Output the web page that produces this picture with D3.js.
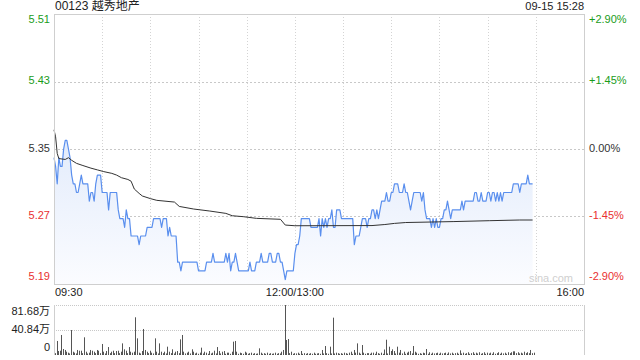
<!DOCTYPE html>
<html>
<head>
<meta charset="utf-8">
<script src="https://cdn.jsdelivr.net/npm/d3@7/dist/d3.min.js"></script>
<style>
  html, body { margin: 0; padding: 0; background: #fff; }
  svg text { font-family: "Liberation Sans", Arial, "Noto Sans CJK SC", sans-serif; }
</style>
</head>
<body>
<svg id="chart" width="640" height="360" viewBox="0 0 640 360"></svg>
<script>
// ---- data ----
const stockTitle = "00123 越秀地产";
const stampText = "09-15 15:28";
const prevClose = 5.35;
const pctTicks = [2.9, 1.45, 0, -1.45, -2.9];
const timeLabels = ["09:30", "12:00/13:00", "16:00"];
const timeLabelPos = [0, 150, 330];
const volTicks = [81.68, 40.84, 0];
const volLabels = ["81.68万", "40.84万", "0"];

// minute-by-minute last price (index 0 = 09:30, 150 = 13:00)
const prices = [
  5.34,5.33,5.31,5.34,5.33,5.33,5.35,5.36,5.36,5.35,
  5.34,5.32,5.31,5.31,5.30,5.30,5.31,5.32,5.31,5.31,
  5.31,5.31,5.29,5.30,5.30,5.29,5.31,5.32,5.32,5.32,
  5.30,5.30,5.30,5.30,5.28,5.30,5.30,5.30,5.30,5.30,
  5.28,5.27,5.27,5.27,5.26,5.28,5.27,5.27,5.25,5.25,
  5.25,5.25,5.25,5.24,5.25,5.25,5.25,5.25,5.26,5.26,
  5.26,5.26,5.27,5.27,5.27,5.27,5.27,5.26,5.27,5.27,
  5.27,5.25,5.26,5.25,5.25,5.25,5.25,5.22,5.22,5.21,
  5.22,5.22,5.22,5.22,5.22,5.22,5.22,5.22,5.22,5.22,
  5.21,5.21,5.21,5.21,5.21,5.22,5.22,5.22,5.22,5.23,
  5.22,5.22,5.22,5.22,5.22,5.22,5.22,5.23,5.22,5.23,
  5.21,5.22,5.22,5.23,5.22,5.21,5.21,5.21,5.21,5.21,
  5.21,5.21,5.22,5.21,5.21,5.21,5.22,5.22,5.22,5.23,
  5.22,5.22,5.22,5.22,5.23,5.23,5.22,5.22,5.22,5.23,
  5.23,5.22,5.22,5.21,5.20,5.21,5.21,5.21,5.21,5.21,
  5.23,5.24,5.24,5.25,5.27,5.27,5.27,5.27,5.27,5.27,
  5.26,5.26,5.26,5.26,5.26,5.27,5.25,5.27,5.26,5.27,
  5.26,5.27,5.27,5.28,5.26,5.26,5.28,5.28,5.28,5.27,
  5.27,5.27,5.27,5.27,5.27,5.27,5.27,5.24,5.25,5.25,
  5.25,5.26,5.27,5.27,5.27,5.26,5.27,5.27,5.28,5.28,
  5.27,5.28,5.27,5.28,5.29,5.29,5.29,5.30,5.29,5.29,
  5.30,5.30,5.31,5.31,5.31,5.30,5.30,5.30,5.31,5.30,
  5.30,5.29,5.28,5.29,5.30,5.30,5.30,5.30,5.30,5.29,
  5.30,5.28,5.27,5.27,5.27,5.26,5.27,5.26,5.27,5.26,
  5.26,5.27,5.27,5.28,5.28,5.29,5.28,5.27,5.28,5.28,
  5.28,5.28,5.28,5.28,5.29,5.28,5.29,5.29,5.29,5.29,
  5.29,5.29,5.30,5.30,5.29,5.29,5.30,5.29,5.29,5.29,
  5.30,5.30,5.29,5.30,5.30,5.29,5.30,5.29,5.30,5.29,
  5.30,5.30,5.30,5.30,5.30,5.30,5.31,5.31,5.31,5.31,
  5.30,5.31,5.31,5.31,5.31,5.32,5.31,5.31,5.31
];

// average price line, read at the minutes where it bends
const avgMinutes = [0,1,2,3,7,9,11,14,18,23,27,31,36,39,42,46,48,50,53,55,60,64,75,78,87,97,107,111,118,126,141,144,150,198,206,212,219,249,271,290,298];
const avgValues = [5.372,5.364,5.345,5.339,5.338,5.340,5.337,5.3335,5.331,5.328,5.326,5.324,5.322,5.320,5.317,5.315,5.313,5.304,5.299,5.296,5.293,5.291,5.289,5.284,5.281,5.2787,5.276,5.2733,5.2722,5.2703,5.2692,5.2626,5.2618,5.2620,5.2632,5.2645,5.2655,5.2666,5.2676,5.2684,5.2684];

// volume per minute, in 万 shares
const volumes = [
  3,22.9,6.5,7,32.7,9.8,8.2,5.4,3.8,2.5,
  40.8,5.4,3.8,2.5,8.2,7,7,3,28.9,5.4,
  2.5,3.8,8.2,7,5.4,3,8.2,7,3,18,
  5.4,2.5,6.5,13,3,5.4,7,3,6.5,7,
  3,5.4,19,9.3,7,3,13,5.4,3.8,5.4,
  61.6,27.2,3.8,2.5,6.5,42.5,8.2,5.4,3,7,
  3.8,2.5,27.2,5.4,2.5,19,5.4,3,5.4,2.5,
  13.6,5.4,3,9.3,2.5,5.4,6.5,3,25.6,32.7,
  5.4,2.5,3.8,5.4,2.5,9.3,5.4,2.5,3.8,2,
  3.8,12,2.5,5.4,3.8,2,6.5,2.5,3.8,7,
  2.5,13,6.5,2.5,5.4,6.5,2,3.8,3.8,2,
  5.4,21.8,22.9,5.4,2,3.8,3,2,5.4,3.8,
  2,3,3.8,2,3,2,2.5,10.9,3.8,2,
  3,2,3.8,2,3,2,2.5,3.8,2,3,
  2.5,5.4,8.2,81.68,24.5,26.1,3,5.4,2,3,
  2.5,3.8,2,6.5,2,3,2,3,2,3,
  2,3.8,2,2.5,3,2,8.2,2.5,14.7,3,
  2,13.6,2.5,61,2.5,3.8,3,2,3,2,
  3.8,3,2,3.8,5.4,2,8.2,3.8,19,3.8,
  2,16.3,3.8,2,3,3,2,3.8,3.8,2,
  5.4,3,2,3.8,2,9,25,2.5,13.6,6.5,
  9.3,6.5,2.5,13.6,3.8,8.2,2.5,5.4,2,3.8,
  5.4,6.5,2.5,14.7,5.4,3.8,2,3,2,3.8,
  3,9.8,2,4.5,2,3.8,2.5,3,3.8,2,
  3.8,2.5,3,3.8,2,4.2,2.5,3.8,2,3,
  3.8,2,7.6,2.5,3.8,2,3,4.5,2,3,
  4.5,2,3.8,2.5,4.5,2,3,4.5,2,3.8,
  2.5,3.8,2,4.5,2,3,4.5,2,3.8,2.5,
  3.8,2,4.5,3,4.5,6,6,3,4.5,2.5,
  3.8,2.5,5.4,3,4.5,3,8.2,3,3.8
];

// ---- drawing ----
const svg = d3.select("#chart");
const plotLeft = 54, plotRight = 584, plotTop = 14, plotBottom = 284;
const volTop = 305, volBottom = 355;
const green = "#1a9c1a", red = "#e93030", dark = "#333";

const xScale = d3.scaleLinear().domain([0, 330]).range([plotLeft, plotRight]);
const yScale = d3.scaleLinear()
  .domain([prevClose * (1 - pctTicks[0] / 100), prevClose * (1 + pctTicks[0] / 100)])
  .range([plotBottom, plotTop]);
const volScale = d3.scaleLinear().domain([0, volTicks[0]]).range([volBottom, volTop]);

function tickColor(p) { return p > 0 ? green : (p < 0 ? red : dark); }

// gradient for the area under the price line
const defs = svg.append("defs");
const grad = defs.append("linearGradient")
  .attr("id", "areaFill")
  .attr("gradientUnits", "userSpaceOnUse")
  .attr("x1", 0).attr("x2", 0)
  .attr("y1", plotTop + 120).attr("y2", plotBottom);
grad.append("stop").attr("offset", 0).attr("stop-color", "#e2ebfb");
grad.append("stop").attr("offset", 1).attr("stop-color", "#fbfcff");

// vertical dotted grid (every 30 minutes)
const gridMinutes = d3.range(30, 330, 30);
svg.append("g")
  .selectAll("line")
  .data(gridMinutes)
  .enter()
  .append("line")
  .attr("x1", (m) => Math.round(xScale(m)) + 0.5)
  .attr("x2", (m) => Math.round(xScale(m)) + 0.5)
  .attr("y1", plotTop)
  .attr("y2", plotBottom)
  .attr("stroke", "#d4d4d4")
  .attr("stroke-dasharray", "1,2");

// horizontal dotted grid
svg.append("g")
  .selectAll("line")
  .data(pctTicks.slice(1, 4))
  .enter()
  .append("line")
  .attr("x1", plotLeft)
  .attr("x2", plotRight)
  .attr("y1", (p) => Math.round(yScale(prevClose * (1 + p / 100))) + 0.5)
  .attr("y2", (p) => Math.round(yScale(prevClose * (1 + p / 100))) + 0.5)
  .attr("stroke", "#c8c8c8")
  .attr("stroke-dasharray", "2,2");

// price area + line
const pts = prices.map((p, i) => [i, p]);
svg.append("path")
  .datum(pts)
  .attr("fill", "url(#areaFill)")
  .attr("d", d3.area()
    .x((d) => xScale(d[0]))
    .y0(plotBottom)
    .y1((d) => yScale(d[1])));

svg.append("path")
  .datum(pts)
  .attr("fill", "none")
  .attr("stroke", "#5a8fee")
  .attr("stroke-width", 1.2)
  .attr("stroke-linejoin", "round")
  .attr("d", d3.line()
    .x((d) => xScale(d[0]))
    .y((d) => yScale(d[1])));

// average line
svg.append("path")
  .datum(avgMinutes.map((m, i) => [m, avgValues[i]]))
  .attr("fill", "none")
  .attr("stroke", "#333")
  .attr("stroke-width", 1)
  .attr("d", d3.line()
    .x((d) => xScale(d[0]))
    .y((d) => yScale(d[1])));

// plot border
svg.append("rect")
  .attr("x", plotLeft + 0.5)
  .attr("y", plotTop + 0.5)
  .attr("width", plotRight - plotLeft)
  .attr("height", plotBottom - plotTop)
  .attr("fill", "none")
  .attr("stroke", "#cfcfcf");

// watermark
svg.append("text")
  .attr("x", 573)
  .attr("y", 279)
  .attr("text-anchor", "end")
  .attr("dominant-baseline", "middle")
  .attr("font-size", 11)
  .attr("fill", "#cfcfcf")
  .text("sina.com");

// left price labels and right percentage labels
const labelShift = [6, 0, 0, 0, -7];
svg.append("g")
  .selectAll("text")
  .data(pctTicks)
  .enter()
  .append("text")
  .attr("x", 50)
  .attr("y", (p, i) => yScale(prevClose * (1 + p / 100)) + labelShift[i])
  .attr("text-anchor", "end")
  .attr("dominant-baseline", "middle")
  .attr("font-size", 11)
  .attr("fill", (p) => tickColor(p))
  .text((p) => (prevClose * (1 + p / 100)).toFixed(2));

svg.append("g")
  .selectAll("text")
  .data(pctTicks)
  .enter()
  .append("text")
  .attr("x", 589)
  .attr("y", (p, i) => yScale(prevClose * (1 + p / 100)) + labelShift[i])
  .attr("dominant-baseline", "middle")
  .attr("font-size", 11)
  .attr("fill", (p) => tickColor(p))
  .text((p) => (p > 0 ? "+" : "") + p.toFixed(2) + "%");

// title and timestamp
svg.append("text")
  .attr("x", 55)
  .attr("y", 7)
  .attr("dominant-baseline", "middle")
  .attr("font-size", 12)
  .attr("fill", "#222")
  .text(stockTitle);

svg.append("text")
  .attr("x", plotRight)
  .attr("y", 7)
  .attr("text-anchor", "end")
  .attr("dominant-baseline", "middle")
  .attr("font-size", 11)
  .attr("fill", "#222")
  .text(stampText);

// time axis labels
const anchors = ["start", "middle", "end"];
svg.append("g")
  .selectAll("text")
  .data(timeLabels)
  .enter()
  .append("text")
  .attr("x", (t, i) => xScale(timeLabelPos[i]) + (i === 0 ? 1 : 0))
  .attr("y", 293)
  .attr("text-anchor", (t, i) => anchors[i])
  .attr("dominant-baseline", "middle")
  .attr("font-size", 11)
  .attr("fill", "#222")
  .text((t) => t);

// ---- volume panel ----
svg.append("g")
  .selectAll("line")
  .data(volTicks.slice(0, 2))
  .enter()
  .append("line")
  .attr("x1", plotLeft)
  .attr("x2", plotRight)
  .attr("y1", (v) => Math.round(volScale(v)) + 0.5)
  .attr("y2", (v) => Math.round(volScale(v)) + 0.5)
  .attr("stroke", "#c8c8c8")
  .attr("stroke-dasharray", "1,1");

[plotLeft, plotRight].forEach((x) => {
  svg.append("line")
    .attr("x1", x + 0.5).attr("x2", x + 0.5)
    .attr("y1", volTop).attr("y2", volBottom)
    .attr("stroke", "#cfcfcf");
});

svg.append("g")
  .selectAll("rect")
  .data(volumes)
  .enter()
  .append("rect")
  .attr("x", (v, i) => Math.round(xScale(i)) + 1)
  .attr("y", (v) => volScale(v))
  .attr("width", 1)
  .attr("height", (v) => volBottom - volScale(v))
  .attr("fill", "#555");

const volShift = [7, 0, -7];
svg.append("g")
  .selectAll("text")
  .data(volTicks)
  .enter()
  .append("text")
  .attr("x", 50)
  .attr("y", (v, i) => volScale(v) + volShift[i])
  .attr("text-anchor", "end")
  .attr("dominant-baseline", "middle")
  .attr("font-size", 11)
  .attr("fill", "#222")
  .text((v, i) => volLabels[i]);
</script>
</body>
</html>
